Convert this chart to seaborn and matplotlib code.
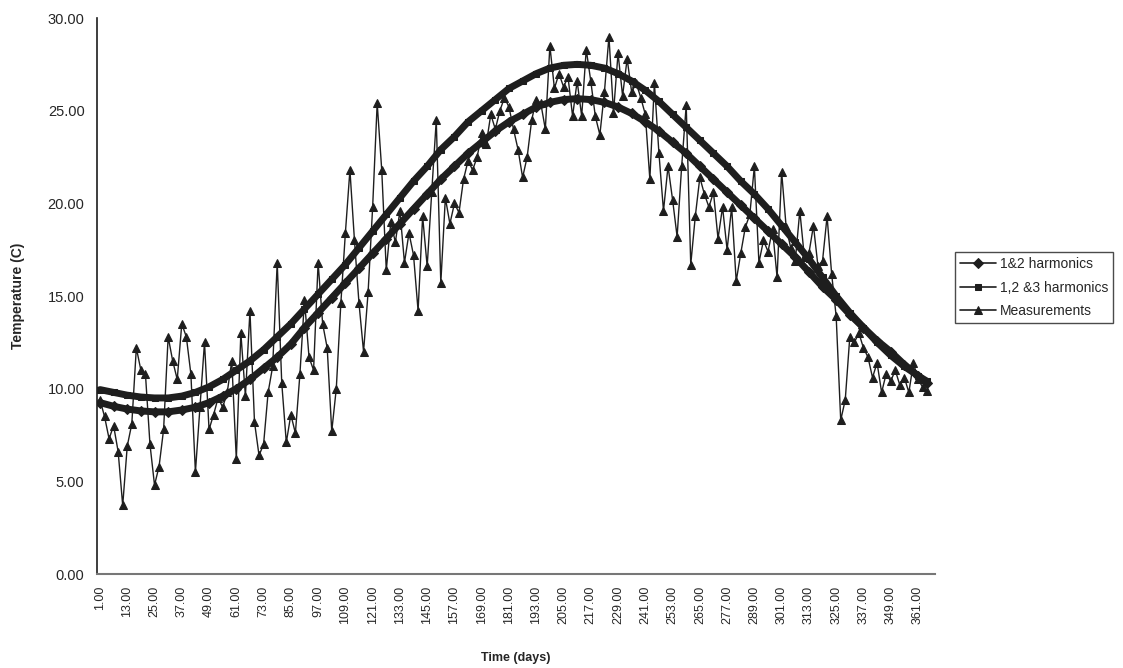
import numpy as np
import seaborn as sns
import matplotlib.pyplot as plt
from matplotlib.ticker import FixedLocator

# days of the harmonic fits (read every 6 days) and the measurements (every 2 days)
fit_days = np.append(np.arange(1, 362, 6), 365)
meas_days = np.arange(1, 366, 2)

harm_12 = [9.25, 9.05, 8.9, 8.8, 8.75, 8.75, 8.85, 9.0, 9.25, 9.6,
           10.0, 10.5, 11.1, 11.7, 12.4, 13.3, 14.1, 14.9, 15.7, 16.5,
           17.3, 18.1, 18.9, 19.7, 20.5, 21.3, 22.0, 22.7, 23.3, 23.9,
           24.4, 24.8, 25.2, 25.45, 25.6, 25.65, 25.6, 25.45, 25.2, 24.85,
           24.4, 23.9, 23.3, 22.7, 22.0, 21.3, 20.6, 19.9, 19.2, 18.5,
           17.8, 17.1, 16.3, 15.5, 14.8, 14.0, 13.3, 12.6, 12.0, 11.3,
           10.7, 10.3]

harm_123 = [9.95, 9.8, 9.65, 9.55, 9.5, 9.5, 9.6, 9.8, 10.1, 10.5,
            11.0, 11.5, 12.1, 12.8, 13.5, 14.3, 15.1, 15.9, 16.7, 17.6,
            18.5, 19.4, 20.3, 21.2, 22.0, 22.9, 23.6, 24.4, 25.0, 25.6,
            26.2, 26.6, 27.0, 27.3, 27.45, 27.5, 27.45, 27.3, 27.0, 26.6,
            26.1, 25.5, 24.8, 24.1, 23.4, 22.7, 22.0, 21.2, 20.5, 19.7,
            18.8, 17.9, 17.0, 16.0, 15.0, 14.1, 13.3, 12.5, 11.8, 11.2,
            10.7, 10.4]

measurements = [9.4, 8.5, 7.3, 8.0, 6.6, 3.7, 6.9, 8.1, 12.2, 11.0,
                10.8, 7.0, 4.8, 5.8, 7.8, 12.8, 11.5, 10.5, 13.5, 12.8,
                10.8, 5.5, 9.0, 12.5, 7.8, 8.6, 9.5, 9.0, 9.8, 11.5,
                6.2, 13.0, 9.6, 14.2, 8.2, 6.4, 7.0, 9.8, 11.2, 16.8,
                10.3, 7.1, 8.6, 7.6, 10.8, 14.8, 11.7, 11.0, 16.8, 13.5,
                12.2, 7.7, 10.0, 14.6, 18.4, 21.8, 18.0, 14.6, 12.0, 15.2,
                19.8, 25.4, 21.8, 16.4, 19.0, 17.9, 19.6, 16.8, 18.4, 17.2,
                14.2, 19.3, 16.6, 20.6, 24.5, 15.7, 20.3, 18.9, 20.0, 19.5,
                21.3, 22.3, 21.8, 22.5, 23.8, 23.2, 24.8, 24.0, 25.0, 25.7,
                25.2, 24.0, 22.9, 21.4, 22.5, 24.5, 25.6, 25.4, 24.0, 28.5,
                26.2, 27.0, 26.3, 26.8, 24.7, 26.6, 24.7, 28.3, 26.6, 24.7,
                23.7, 26.0, 29.0, 24.9, 28.1, 25.8, 27.8, 26.0, 26.5, 25.7,
                24.8, 21.3, 26.5, 22.7, 19.6, 22.0, 20.2, 18.2, 22.0, 25.3,
                16.7, 19.3, 21.4, 20.5, 19.8, 20.6, 18.1, 19.8, 17.5, 19.8,
                15.8, 17.3, 18.7, 19.4, 22.0, 16.8, 18.0, 17.4, 18.6, 16.0,
                21.7, 18.7, 17.6, 16.9, 19.6, 17.1, 17.3, 18.8, 16.6, 16.9,
                19.3, 16.2, 13.9, 8.3, 9.4, 12.8, 12.5, 13.0, 12.2, 11.7,
                10.6, 11.4, 9.8, 10.8, 10.4, 11.0, 10.2, 10.6, 9.8, 11.4,
                10.5, 10.1, 9.9]

tick_days = np.arange(1, 362, 12)
tick_labels = [f"{d:.2f}" for d in tick_days]
y_ticks = [0, 5, 10, 15, 20, 25, 30]

sns.set_style("white")
plt.rcParams['font.family'] = ['Liberation Sans', 'DejaVu Sans']

fig = plt.figure(figsize=(11.23, 6.68), dpi=100)
ax = fig.add_axes([0.0864, 0.1407, 0.7462, 0.8323])

ink = "#1e1e1e"
sns.lineplot(x=meas_days, y=measurements, ax=ax, color=ink, lw=1.0, marker="^",
             markersize=6, markeredgecolor=ink, label="Measurements", zorder=2)
sns.lineplot(x=fit_days, y=harm_12, ax=ax, color=ink, lw=5, marker="D",
             markersize=5, markeredgecolor=ink, label="1&2 harmonics", zorder=3)
sns.lineplot(x=fit_days, y=harm_123, ax=ax, color=ink, lw=5, marker="s",
             markersize=5, markeredgecolor=ink, label="1,2 &3 harmonics", zorder=3)

ax.set_xlim(-0.3, 368.5)
ax.set_ylim(0, 30)
ax.set_yticks(y_ticks)
ax.set_yticklabels([f"{v:.2f}" for v in y_ticks], fontsize=10.5)
ax.set_xticks(tick_days)
ax.set_xticklabels(tick_labels, rotation=90, fontsize=9)
ax.xaxis.set_minor_locator(FixedLocator(np.arange(1, 366, 1)))

for side in ["top", "right"]:
    ax.spines[side].set_visible(False)
ax.spines["left"].set_color(ink)
ax.spines["left"].set_linewidth(1.2)
ax.spines["bottom"].set_color("#777777")
ax.spines["bottom"].set_linewidth(1.5)

ax.tick_params(axis="y", direction="inout", length=6, width=1, color=ink, pad=6)
ax.tick_params(axis="x", which="major", direction="inout", length=5, width=1,
               color="#777777", pad=6)
ax.tick_params(axis="x", which="minor", direction="inout", length=3, width=0.6,
               color="#888888")

ax.set_xlabel("Time (days)", fontsize=9, fontweight="bold", labelpad=20)
ax.set_ylabel("Temperature (C)", fontsize=10, fontweight="bold")
ax.yaxis.set_label_coords(-0.086, 0.5)

# legend order as in the reference
handles, labels = ax.get_legend_handles_labels()
order = [labels.index(n) for n in ["1&2 harmonics", "1,2 &3 harmonics", "Measurements"]]
leg = ax.legend([handles[i] for i in order], [labels[i] for i in order],
                loc="upper left", bbox_to_anchor=(955 / 1123, 1 - 252 / 668),
                bbox_transform=fig.transFigure, frameon=True, fancybox=False,
                edgecolor=ink, fontsize=10, handlelength=2.6, borderpad=0.35,
                labelspacing=0.7, handletextpad=0.3, borderaxespad=0)
leg.get_frame().set_linewidth(1.0)
for line in leg.get_lines():
    line.set_linewidth(1.2)

fig.savefig("out.png", dpi=100)
